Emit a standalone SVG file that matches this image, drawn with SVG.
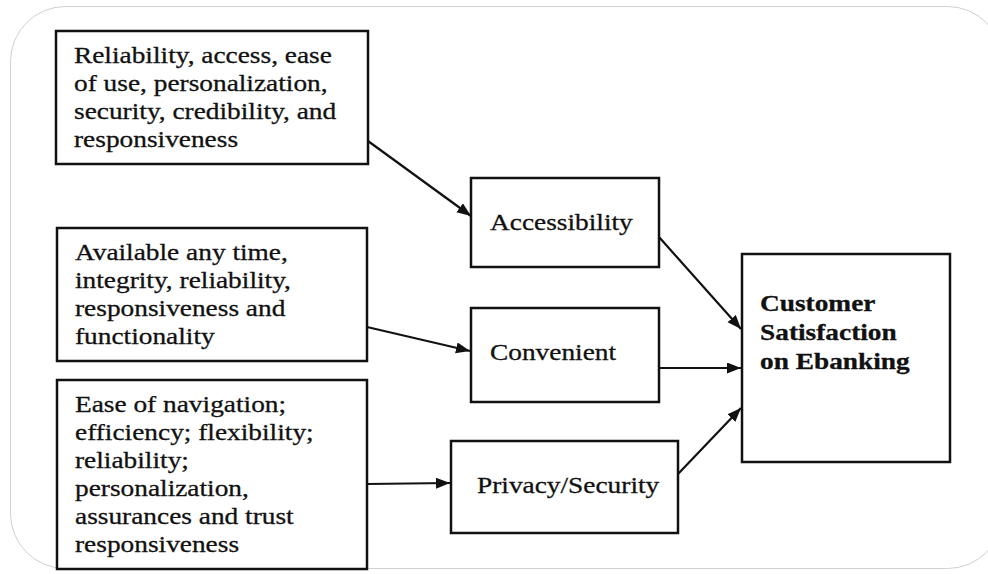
<svg xmlns="http://www.w3.org/2000/svg" width="988" height="574" viewBox="0 0 988 574">
<defs>
<style>
.frame{fill:#ffffff;stroke:#d0d0d0;stroke-width:1}
.box{fill:#ffffff;stroke:#111111;stroke-width:2.5}
.t{font-family:"Liberation Serif","Times New Roman",serif;font-size:24px;fill:#111111;stroke:#111111;stroke-width:0.3}
.b{font-weight:bold}
.conn{stroke:#111111;stroke-width:2.2;fill:none}
</style>
<marker id="ah" markerUnits="userSpaceOnUse" markerWidth="15" markerHeight="12" refX="14" refY="5.5" orient="auto">
<path d="M0,0 L14,5.5 L0,11 z" fill="#111111"/>
</marker>
</defs>
<rect width="988" height="574" fill="#ffffff"/>
<rect class="frame" x="10.5" y="6.5" width="992" height="562" rx="55"/>

<g id="factors-accessibility">
<rect class="box" x="56" y="31" width="312" height="133"/>
<text class="t" transform="translate(74 0) scale(1.14 1)"><tspan x="0" y="63">Reliability, access, ease</tspan><tspan x="0" y="91">of use, personalization,</tspan><tspan x="0" y="119">security, credibility, and</tspan><tspan x="0" y="147">responsiveness</tspan></text>
</g>

<g id="factors-convenient">
<rect class="box" x="57" y="228" width="310" height="133"/>
<text class="t" transform="translate(75 0) scale(1.14 1)"><tspan x="0" y="260">Available any time,</tspan><tspan x="0" y="288">integrity, reliability,</tspan><tspan x="0" y="316">responsiveness and</tspan><tspan x="0" y="344">functionality</tspan></text>
</g>

<g id="factors-privacy">
<rect class="box" x="57" y="380" width="310" height="189"/>
<text class="t" transform="translate(75 0) scale(1.14 1)"><tspan x="0" y="412">Ease of navigation;</tspan><tspan x="0" y="440">efficiency; flexibility;</tspan><tspan x="0" y="468">reliability;</tspan><tspan x="0" y="496">personalization,</tspan><tspan x="0" y="524">assurances and trust</tspan><tspan x="0" y="552">responsiveness</tspan></text>
</g>

<g id="accessibility">
<rect class="box" x="471" y="178" width="188" height="89"/>
<text class="t" transform="translate(490 0) scale(1.14 1)" x="0" y="230">Accessibility</text>
</g>

<g id="convenient">
<rect class="box" x="471" y="308" width="188" height="94"/>
<text class="t" transform="translate(490 0) scale(1.14 1)" x="0" y="360">Convenient</text>
</g>

<g id="privacy-security">
<rect class="box" x="451" y="441" width="227" height="92"/>
<text class="t" transform="translate(477 0) scale(1.14 1)" x="0" y="493">Privacy/Security</text>
</g>

<g id="customer-satisfaction">
<rect class="box" x="742" y="254" width="208" height="208"/>
<text class="t b" transform="translate(760 0) scale(1.14 1)"><tspan x="0" y="311">Customer</tspan><tspan x="0" y="340">Satisfaction</tspan><tspan x="0" y="369">on Ebanking</tspan></text>
</g>

<g id="connectors">
<line class="conn" x1="368" y1="141" x2="471" y2="216" marker-end="url(#ah)"/>
<line class="conn" x1="367" y1="327" x2="470" y2="351" marker-end="url(#ah)"/>
<line class="conn" x1="367" y1="484" x2="450" y2="483" marker-end="url(#ah)"/>
<line class="conn" x1="659" y1="237" x2="741" y2="329" marker-end="url(#ah)"/>
<line class="conn" x1="659" y1="368" x2="741" y2="368" marker-end="url(#ah)"/>
<line class="conn" x1="678" y1="474" x2="741" y2="408" marker-end="url(#ah)"/>
</g>
</svg>
